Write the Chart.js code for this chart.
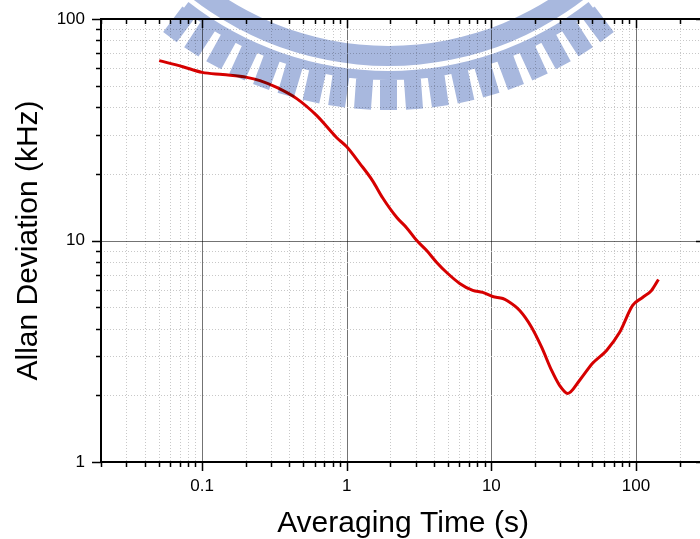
<!DOCTYPE html>
<html>
<head>
<meta charset="utf-8">
<script src="https://cdn.jsdelivr.net/npm/chart.js@4/dist/chart.umd.min.js"></script>
<style>
  html, body { margin: 0; padding: 0; overflow: hidden; background: #fff; }
  #wrap { width: 712px; height: 539px; }
</style>
</head>
<body>
<div id="wrap"><canvas id="c" width="712" height="539"></canvas></div>
<script>
// ---- data ----
const tau = [0.0505, 0.0736, 0.1, 0.139, 0.204, 0.251, 0.328, 0.451, 0.621, 0.853,
             1.0, 1.23, 1.51, 1.77, 2.22, 2.60, 3.05, 3.57, 4.19, 4.91,
             6.04, 7.43, 8.71, 10.2, 12.0, 12.8, 15.7, 19.0, 22.3, 26.1,
             29.6, 33.7, 40.8, 50.1, 62.6, 77.1, 94.8, 111, 128, 143];
const adev = [64.9, 60.9, 57.4, 56.1, 54.5, 52.7, 49.1, 43.7, 36.6, 29.1,
              26.5, 22.3, 18.6, 15.6, 12.7, 11.4, 10.0, 9.01, 7.96, 7.17,
              6.40, 5.95, 5.83, 5.59, 5.47, 5.36, 4.83, 4.05, 3.29, 2.59,
              2.22, 2.04, 2.34, 2.79, 3.19, 3.85, 5.09, 5.53, 5.95, 6.67];
const xTickValues = [0.1, 1, 10, 100];
const xTickLabels = ['0.1', '1', '10', '100'];
const yTickValues = [1, 10, 100];
const yTickLabels = ['1', '10', '100'];
const xRange = [0.02, 300];
const yRange = [1, 100];
const xTitle = 'Averaging Time (s)';
const yTitle = 'Allan Deviation (kHz)';

const FONT = '"Liberation Sans", Arial, Helvetica, sans-serif';

function logTicks(min, max, majors) {
  const out = [];
  const e0 = Math.floor(Math.log10(min)), e1 = Math.ceil(Math.log10(max));
  for (let e = e0; e <= e1; e++) {
    for (let m = 1; m <= 9; m++) {
      const v = parseFloat((m * Math.pow(10, e)).toPrecision(6));
      if (v >= min * 0.9999 && v <= max * 1.0001) {
        out.push({ value: v, major: majors.some(t => Math.abs(t - v) < 1e-9 * Math.max(1, v)) });
      }
    }
  }
  return out;
}
function labelFor(values, labels, v) {
  const i = values.findIndex(t => Math.abs(t - v) < 1e-9 * Math.max(1, v));
  return i >= 0 ? labels[i] : '';
}

const axisPlugin = {
  id: 'axisPlugin',
  beforeDatasetsDraw(chart) {
    const { ctx, chartArea: a, scales } = chart;
    ctx.save();
    ctx.lineWidth = 1;
    scales.x.ticks.forEach(t => {
      const px = Math.round(scales.x.getPixelForValue(t.value)) + 0.5;
      if (px <= a.left + 1 || px >= a.right - 1) return;
      if (t.major) { ctx.setLineDash([]); ctx.strokeStyle = 'rgba(0,0,0,0.55)'; }
      else { ctx.setLineDash([1, 2]); ctx.strokeStyle = '#c8c8c8'; }
      ctx.beginPath(); ctx.moveTo(px, a.top); ctx.lineTo(px, a.bottom); ctx.stroke();
    });
    scales.y.ticks.forEach(t => {
      const py = Math.round(scales.y.getPixelForValue(t.value)) + 0.5;
      if (py <= a.top + 1 || py >= a.bottom - 1) return;
      if (t.major) { ctx.setLineDash([]); ctx.strokeStyle = 'rgba(0,0,0,0.55)'; }
      else { ctx.setLineDash([1, 2]); ctx.strokeStyle = '#c8c8c8'; }
      ctx.beginPath(); ctx.moveTo(a.left, py); ctx.lineTo(a.right, py); ctx.stroke();
    });
    ctx.restore();
  },
  afterDatasetsDraw(chart) {
    const { ctx, chartArea: a, scales } = chart;
    ctx.save();
    ctx.setLineDash([]);
    ctx.strokeStyle = '#000';
    ctx.lineWidth = 1.5;
    const majL = 9, minL = 5;
    scales.x.ticks.forEach(t => {
      const px = Math.round(scales.x.getPixelForValue(t.value)) + 0.5;
      const L = t.major ? majL : minL;
      ctx.beginPath();
      ctx.moveTo(px, a.bottom); ctx.lineTo(px, a.bottom + L);
      ctx.moveTo(px, a.top); ctx.lineTo(px, a.top + L);
      ctx.stroke();
    });
    scales.y.ticks.forEach(t => {
      const py = Math.round(scales.y.getPixelForValue(t.value)) + 0.5;
      const L = t.major ? majL : minL;
      ctx.beginPath();
      ctx.moveTo(a.left, py); ctx.lineTo(a.left - L, py);
      ctx.moveTo(a.right, py); ctx.lineTo(a.right - L, py);
      ctx.stroke();
    });
    ctx.lineWidth = 2;
    ctx.strokeRect(a.left, a.top, a.right - a.left, a.bottom - a.top);
    ctx.restore();
  },
  afterDraw(chart) {
    // faint watermark logo (decoration)
    const { ctx, chartArea: a } = chart;
    const cx = a.left + (a.right - a.left) * 0.476;
    const cy = a.top - 273;
    ctx.save();
    ctx.globalCompositeOperation = 'multiply';
    ctx.fillStyle = 'rgb(168,184,222)';
    ctx.beginPath();
    ctx.arc(cx, cy, 320, 0, Math.PI, false);
    ctx.arc(cx, cy, 300, Math.PI, 0, true);
    ctx.closePath();
    const span = 38 * Math.PI / 180;
    ctx.moveTo(cx + 334 * Math.cos(Math.PI / 2 - span), cy + 334 * Math.sin(Math.PI / 2 - span));
    ctx.arc(cx, cy, 334, Math.PI / 2 - span, Math.PI / 2 + span, false);
    ctx.arc(cx, cy, 325, Math.PI / 2 + span, Math.PI / 2 - span, true);
    ctx.closePath();
    const pitch = 4.1 * Math.PI / 180;
    for (let k = -9; k <= 9; k++) {
      const th = k * pitch;
      const c = Math.cos(th), s = Math.sin(th);
      const pts = [[-8.5, 332], [8.5, 332], [8.5, 364], [-8.5, 364]];
      pts.forEach((p, i) => {
        const X = cx + p[0] * c - p[1] * s;
        const Y = cy + p[0] * s + p[1] * c;
        if (i === 0) ctx.moveTo(X, Y); else ctx.lineTo(X, Y);
      });
      ctx.closePath();
    }
    ctx.fill('nonzero');
    ctx.restore();
  }
};

new Chart(document.getElementById('c'), {
  type: 'line',
  data: {
    datasets: [{
      data: tau.map((t, i) => ({ x: t, y: adev[i] })),
      borderColor: '#d60000',
      borderWidth: 3,
      pointRadius: 0,
      fill: false,
      cubicInterpolationMode: 'monotone'
    }]
  },
  options: {
    responsive: false,
    animation: false,
    devicePixelRatio: 1,
    layout: { padding: { left: 0, top: 19, right: 7, bottom: 0 } },
    plugins: { legend: { display: false }, tooltip: { enabled: false } },
    scales: {
      x: {
        type: 'logarithmic',
        min: xRange[0], max: xRange[1],
        afterBuildTicks: s => { s.ticks = logTicks(xRange[0], xRange[1], xTickValues); },
        afterFit: s => { s.height = 77; },
        grid: { display: false, drawTicks: true, tickLength: 9 },
        border: { display: false },
        ticks: {
          autoSkip: false, maxRotation: 0, padding: 5, color: '#000',
          font: { family: FONT, size: 17 },
          callback: v => labelFor(xTickValues, xTickLabels, v)
        },
        title: {
          display: true, text: xTitle, color: '#000',
          font: { family: FONT, size: 30, lineHeight: 1 },
          padding: { top: 0, bottom: 0 }
        }
      },
      y: {
        type: 'logarithmic',
        min: yRange[0], max: yRange[1],
        afterBuildTicks: s => { s.ticks = logTicks(yRange[0], yRange[1], yTickValues); },
        afterFit: s => { s.width = 101; },
        grid: { display: false, drawTicks: true, tickLength: 8 },
        border: { display: false },
        ticks: {
          autoSkip: false, padding: 8, color: '#000',
          font: { family: FONT, size: 17 },
          callback: v => labelFor(yTickValues, yTickLabels, v)
        },
        title: {
          display: true, text: yTitle, color: '#000',
          font: { family: FONT, size: 30, lineHeight: 1 },
          padding: { top: 14, bottom: 0 }
        }
      }
    }
  },
  plugins: [axisPlugin]
});
</script>
</body>
</html>
